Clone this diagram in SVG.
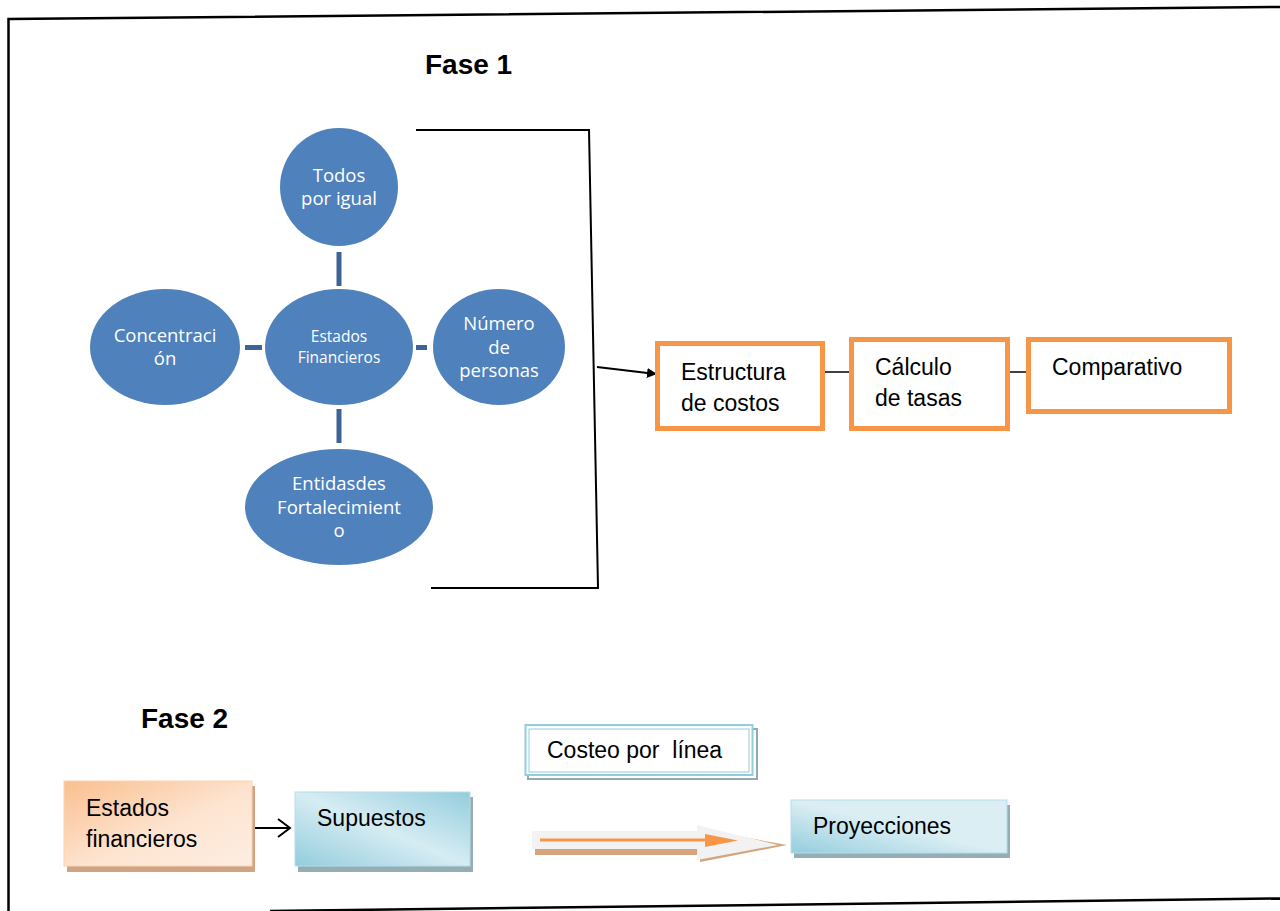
<svg xmlns="http://www.w3.org/2000/svg" width="1280" height="911" viewBox="0 0 1280 911">
<style>
.frame{stroke:#000;stroke-width:2.5;fill:none}
.br{stroke:#000;stroke-width:2;fill:none}
.ell{fill:#4f81bd}
.spoke{stroke:#3d6494;stroke-width:5}
.wt{font-family:"Open Sans","Noto Sans",sans-serif;fill:#fff;text-anchor:middle}
.ob{fill:#fff;stroke:#f79646;stroke-width:5}
.t{font-family:"Liberation Sans",Arial,sans-serif;font-size:23px;fill:#000}
.h{font-family:"Liberation Sans",Arial,sans-serif;font-size:28px;font-weight:bold;fill:#000}
.ln{stroke:#000;stroke-width:1.5}
</style>
<defs>
<marker id="ah" viewBox="0 0 10 10" refX="9" refY="5" markerWidth="10" markerHeight="10" markerUnits="userSpaceOnUse" orient="auto"><path d="M0,0 L10,5 L0,10 z" fill="#000"/></marker>
<linearGradient id="og" x1="0" y1="0" x2="1" y2="1"><stop offset="0" stop-color="#fabf8f"/><stop offset="0.55" stop-color="#fde4d0"/><stop offset="1" stop-color="#fdeee3"/></linearGradient>
<linearGradient id="bg" x1="1" y1="0" x2="0" y2="1"><stop offset="0" stop-color="#93cddd"/><stop offset="0.5" stop-color="#d6ecf3"/><stop offset="1" stop-color="#93cddd"/></linearGradient>
<linearGradient id="bg2" x1="0" y1="1" x2="1" y2="0"><stop offset="0" stop-color="#93cddd"/><stop offset="0.5" stop-color="#dbeef4"/><stop offset="1" stop-color="#dbeef4"/></linearGradient>
</defs>
<rect width="1280" height="911" fill="#fff"/>
<g id="frame">
<path class="frame" d="M8.5,911 L8.5,19 L1280,7"/>
<path class="frame" d="M270,911 L1280,898.5"/>
</g>
<text class="h" x="425" y="74">Fase 1</text>
<text class="h" x="141" y="728">Fase 2</text>
<g id="connectors">
<line class="spoke" x1="339" y1="252" x2="339" y2="286"/>
<line class="spoke" x1="339" y1="409" x2="339" y2="443"/>
<line class="spoke" x1="245" y1="347.5" x2="262" y2="347.5"/>
<line class="spoke" x1="416" y1="347.5" x2="427" y2="347.5"/>
<path class="br" d="M416,130 L589,130 L598,588 L431,588"/>
<line x1="597" y1="367" x2="656" y2="374" stroke="#000" stroke-width="2" marker-end="url(#ah)"/>
<line class="ln" x1="823" y1="372" x2="852" y2="372"/>
<line class="ln" x1="1008" y1="372" x2="1029" y2="372"/>
<path d="M252,828 L289,828 M278,819 L290,828 L278,837" stroke="#000" stroke-width="2" fill="none"/>
<g id="blockarrow">
<polygon points="535,836 700,836 700,829 787,845 700,862 700,855 535,855" fill="#d3a47e"/>
<polygon points="532,831 697,831 697,825 778,845 697,860 697,849 532,849" fill="#f2f2f2"/>
<line x1="540" y1="840" x2="708" y2="840" stroke="#f79646" stroke-width="3"/>
<polygon points="705,834 738,840.5 705,847" fill="#f79646"/>
</g>
</g>
<g id="n-todos"><circle class="ell" cx="339" cy="187" r="59"/><text class="wt" font-size="18.5" x="339" y="182">Todos</text><text class="wt" font-size="18.5" x="339" y="205">por igual</text></g>
<g id="n-estados"><ellipse class="ell" cx="339" cy="347" rx="74" ry="58"/><text class="wt" font-size="15.5" x="339" y="342">Estados</text><text class="wt" font-size="15.5" x="339" y="363">Financieros</text></g>
<g id="n-concentracion"><ellipse class="ell" cx="165" cy="347" rx="75" ry="58"/><text class="wt" font-size="18.5" x="165" y="342">Concentraci</text><text class="wt" font-size="18.5" x="165" y="365">ón</text></g>
<g id="n-numero"><ellipse class="ell" cx="499" cy="347" rx="66" ry="58"/><text class="wt" font-size="18.5" x="499" y="330">Número</text><text class="wt" font-size="18.5" x="499" y="354">de</text><text class="wt" font-size="18.5" x="499" y="377">personas</text></g>
<g id="n-entidades"><ellipse class="ell" cx="339" cy="507" rx="94" ry="58"/><text class="wt" font-size="18.5" x="339" y="490">Entidasdes</text><text class="wt" font-size="18.5" x="339" y="514">Fortalecimient</text><text class="wt" font-size="18.5" x="339" y="537">o</text></g>
<g id="n-estructura"><rect class="ob" x="657.5" y="343.5" width="165" height="85"/><text class="t" x="681" y="380">Estructura</text><text class="t" x="681" y="411">de costos</text></g>
<g id="n-calculo"><rect class="ob" x="851.5" y="339.5" width="156" height="89"/><text class="t" x="875" y="375">Cálculo</text><text class="t" x="875" y="406">de tasas</text></g>
<g id="n-comparativo"><rect class="ob" x="1028.5" y="339.5" width="201" height="72"/><text class="t" x="1052" y="375">Comparativo</text></g>
<g id="n-estadosfin"><rect x="67" y="786" width="188" height="86" fill="#d0a483"/><rect x="64" y="781" width="188" height="85" fill="url(#og)" stroke="#fbd4b4" stroke-width="1"/><text class="t" x="86" y="816">Estados</text><text class="t" x="86" y="847">financieros</text></g>
<g id="n-supuestos"><rect x="298" y="797" width="175" height="75" fill="#95aeb6"/><rect x="295" y="792" width="175" height="74" fill="url(#bg)" stroke="#b7dde8" stroke-width="1"/><text class="t" x="317" y="826">Supuestos</text></g>
<g id="n-costeo"><rect x="528" y="729" width="229" height="50" fill="#fff" stroke="#94aab3" stroke-width="2"/><rect x="525.5" y="725" width="227" height="50" fill="#fff" stroke="#92cddc" stroke-width="2"/><rect x="529" y="729" width="220" height="43" fill="none" stroke="#92cddc" stroke-width="1"/><text class="t" x="547" y="758" xml:space="preserve">Costeo por  línea</text></g>
<g id="n-proyecciones"><rect x="794" y="805" width="216" height="53" fill="#95aeb6"/><rect x="791" y="800" width="216" height="53" fill="url(#bg2)" stroke="#b7dde8" stroke-width="1"/><text class="t" x="813" y="834">Proyecciones</text></g>
</svg>
